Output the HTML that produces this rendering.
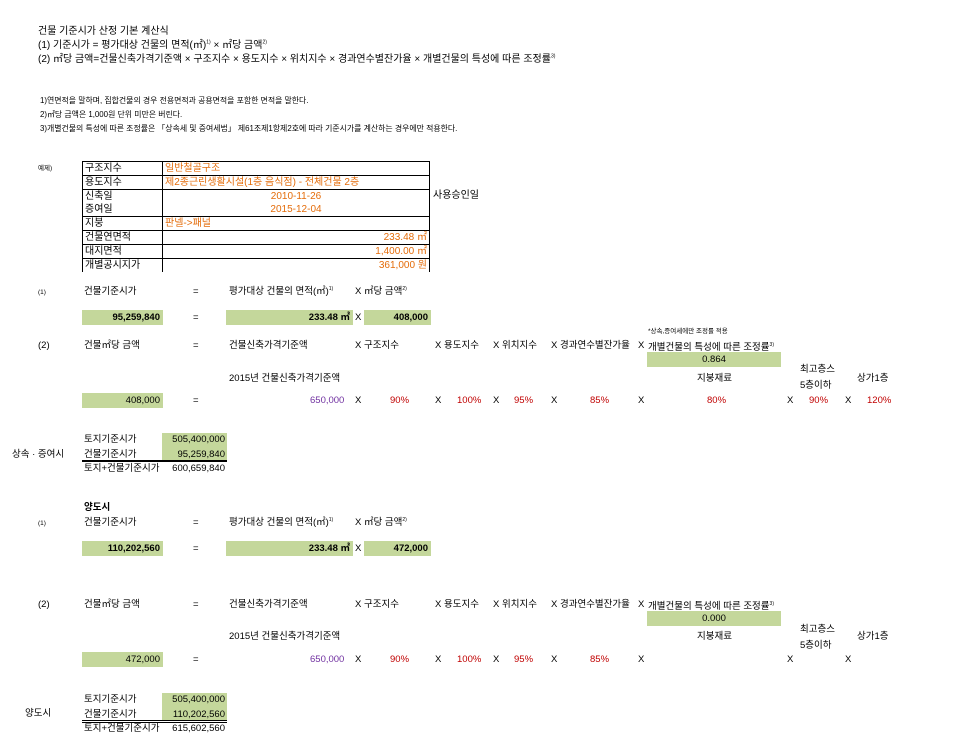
<!DOCTYPE html>
<html><head><meta charset="utf-8"><style>
body{margin:0;width:957px;height:754px;background:#fff;position:relative;overflow:hidden;font-family:"Liberation Sans","Noto Sans CJK KR",sans-serif;font-size:9.5px;color:#000}
.a{position:absolute;white-space:nowrap;line-height:12px}
.t{font-size:10px}
.g{position:absolute;background:#c4d79b;line-height:15px;text-align:right;box-sizing:border-box;padding-right:3px}
.b{font-weight:bold}
.o{color:#e46c0a}
.p{color:#7030a0}
.r{color:#c00000}
.s{font-size:6.5px}
.f{font-size:7.9px}
sup{font-size:5px;line-height:0}
table{position:absolute;left:82px;top:161px;border-collapse:collapse;font-size:10px}
td{border:1px solid #000;padding:0 2px;line-height:13px;height:13px}
</style></head><body>
<div class="a t" style="left:38px;top:26px">건물 기준시가 산정 기본 계산식</div>
<div class="a t" style="left:38px;top:40px">(1) 기준시가 = 평가대상 건물의 면적(㎡)<sup>1)</sup> × ㎡당 금액<sup>2)</sup></div>
<div class="a t" style="left:38px;top:54px">(2) ㎡당 금액=건물신축가격기준액 × 구조지수 × 용도지수 × 위치지수 × 경과연수별잔가율 × 개별건물의 특성에 따른 조정률<sup>3)</sup></div>
<div class="a f" style="left:40px;top:95px">1)연면적을 말하며, 집합건물의 경우 전용면적과 공용면적을 포함한 면적을 말한다.</div>
<div class="a f" style="left:40px;top:109px">2)㎡당 금액은 1,000원 단위 미만은 버린다.</div>
<div class="a f" style="left:40px;top:123px">3)개별건물의 특성에 따른 조정률은 「상속세 및 증여세법」 제61조제1항제2호에 따라 기준시가를 계산하는 경우에만 적용한다.</div>
<div class="a s" style="left:38px;top:163px">예제)</div>
<table>
<tr><td style="width:75px">구조지수</td><td class="o" style="width:262px">일반철골구조</td></tr>
<tr><td>용도지수</td><td class="o">제2종근린생활시설(1층 음식점) - 전체건물 2층</td></tr>
<tr><td style="height:26px">신축일<br>증여일</td><td class="o" style="text-align:center">2010-11-26<br>2015-12-04</td></tr>
<tr><td>지붕</td><td class="o">판넬->패널</td></tr>
<tr><td>건물연면적</td><td class="o" style="text-align:right">233.48 ㎡</td></tr>
<tr><td>대지면적</td><td class="o" style="text-align:right">1,400.00 ㎡</td></tr>
<tr><td style="border-bottom:none">개별공시지가</td><td class="o" style="text-align:right;border-bottom:none">361,000 원</td></tr>
</table>
<div class="a t" style="left:433px;top:190px">사용승인일</div>

<div class="a s" style="left:38px;top:287px">(1)</div>
<div class="a" style="left:84px;top:286px">건물기준시가</div>
<div class="a" style="left:193px;top:286px">=</div>
<div class="a" style="left:229px;top:286px">평가대상 건물의 면적(㎡)<sup>1)</sup></div>
<div class="a" style="left:355px;top:286px">X ㎡당 금액<sup>2)</sup></div>
<div class="g b" style="left:82px;top:310px;width:81px">95,259,840</div>
<div class="a" style="left:193px;top:312px">=</div>
<div class="g b" style="left:226px;top:310px;width:127px">233.48 ㎡</div>
<div class="a" style="left:355px;top:312px">X</div>
<div class="g b" style="left:364px;top:310px;width:67px">408,000</div>

<div class="a s" style="left:648px;top:326px">*상속,증여세에만 조정률 적용</div>
<div class="a" style="left:38px;top:340px">(2)</div>
<div class="a" style="left:84px;top:340px">건물㎡당 금액</div>
<div class="a" style="left:193px;top:340px">=</div>
<div class="a" style="left:229px;top:340px">건물신축가격기준액</div>
<div class="a" style="left:355px;top:340px">X 구조지수</div>
<div class="a" style="left:435px;top:340px">X 용도지수</div>
<div class="a" style="left:493px;top:340px">X 위치지수</div>
<div class="a" style="left:551px;top:340px">X 경과연수별잔가율</div>
<div class="a" style="left:638px;top:340px">X</div>
<div class="a" style="left:648px;top:342px">개별건물의 특성에 따른 조정률<sup>3)</sup></div>
<div class="g" style="left:647px;top:352px;width:134px;text-align:center;padding:0">0.864</div>
<div class="a" style="left:229px;top:373px">2015년 건물신축가격기준액</div>
<div class="a" style="left:697px;top:373px">지붕재료</div>
<div class="a" style="left:800px;top:364px">최고층스</div>
<div class="a" style="left:800px;top:380px">5층이하</div>
<div class="a" style="left:857px;top:373px">상가1층</div>
<div class="g" style="left:82px;top:393px;width:81px">408,000</div>
<div class="a" style="left:193px;top:395px">=</div>
<div class="a p" style="left:310px;top:395px">650,000</div>
<div class="a" style="left:355px;top:395px">X</div><div class="a r" style="left:390px;top:395px">90%</div>
<div class="a" style="left:435px;top:395px">X</div><div class="a r" style="left:457px;top:395px">100%</div>
<div class="a" style="left:493px;top:395px">X</div><div class="a r" style="left:514px;top:395px">95%</div>
<div class="a" style="left:551px;top:395px">X</div><div class="a r" style="left:590px;top:395px">85%</div>
<div class="a" style="left:638px;top:395px">X</div><div class="a r" style="left:707px;top:395px">80%</div>
<div class="a" style="left:787px;top:395px">X</div><div class="a r" style="left:809px;top:395px">90%</div>
<div class="a" style="left:845px;top:395px">X</div><div class="a r" style="left:867px;top:395px">120%</div>

<div class="g" style="left:162px;top:433px;width:65px;height:28px"></div>
<div class="a" style="left:84px;top:434px">토지기준시가</div>
<div class="a" style="left:162px;top:434px;width:63px;text-align:right">505,400,000</div>
<div class="a" style="left:12px;top:449px">상속 · 증여시</div>
<div class="a" style="left:84px;top:449px">건물기준시가</div>
<div class="a" style="left:162px;top:449px;width:63px;text-align:right">95,259,840</div>
<div style="position:absolute;left:82px;top:460px;width:145px;height:2px;background:#000"></div>
<div class="a" style="left:84px;top:463px">토지+건물기준시가</div>
<div class="a" style="left:162px;top:463px;width:63px;text-align:right">600,659,840</div>

<div class="a b" style="left:84px;top:502px">양도시</div>
<div class="a s" style="left:38px;top:518px">(1)</div>
<div class="a" style="left:84px;top:517px">건물기준시가</div>
<div class="a" style="left:193px;top:517px">=</div>
<div class="a" style="left:229px;top:517px">평가대상 건물의 면적(㎡)<sup>1)</sup></div>
<div class="a" style="left:355px;top:517px">X ㎡당 금액<sup>2)</sup></div>
<div class="g b" style="left:82px;top:541px;width:81px">110,202,560</div>
<div class="a" style="left:193px;top:543px">=</div>
<div class="g b" style="left:226px;top:541px;width:127px">233.48 ㎡</div>
<div class="a" style="left:355px;top:543px">X</div>
<div class="g b" style="left:364px;top:541px;width:67px">472,000</div>

<div class="a" style="left:38px;top:599px">(2)</div>
<div class="a" style="left:84px;top:599px">건물㎡당 금액</div>
<div class="a" style="left:193px;top:599px">=</div>
<div class="a" style="left:229px;top:599px">건물신축가격기준액</div>
<div class="a" style="left:355px;top:599px">X 구조지수</div>
<div class="a" style="left:435px;top:599px">X 용도지수</div>
<div class="a" style="left:493px;top:599px">X 위치지수</div>
<div class="a" style="left:551px;top:599px">X 경과연수별잔가율</div>
<div class="a" style="left:638px;top:599px">X</div>
<div class="a" style="left:648px;top:601px">개별건물의 특성에 따른 조정률<sup>3)</sup></div>
<div class="g" style="left:647px;top:611px;width:134px;text-align:center;padding:0">0.000</div>
<div class="a" style="left:229px;top:631px">2015년 건물신축가격기준액</div>
<div class="a" style="left:697px;top:631px">지붕재료</div>
<div class="a" style="left:800px;top:624px">최고층스</div>
<div class="a" style="left:800px;top:640px">5층이하</div>
<div class="a" style="left:857px;top:631px">상가1층</div>
<div class="g" style="left:82px;top:652px;width:81px">472,000</div>
<div class="a" style="left:193px;top:654px">=</div>
<div class="a p" style="left:310px;top:654px">650,000</div>
<div class="a" style="left:355px;top:654px">X</div><div class="a r" style="left:390px;top:654px">90%</div>
<div class="a" style="left:435px;top:654px">X</div><div class="a r" style="left:457px;top:654px">100%</div>
<div class="a" style="left:493px;top:654px">X</div><div class="a r" style="left:514px;top:654px">95%</div>
<div class="a" style="left:551px;top:654px">X</div><div class="a r" style="left:590px;top:654px">85%</div>
<div class="a" style="left:638px;top:654px">X</div>
<div class="a" style="left:787px;top:654px">X</div>
<div class="a" style="left:845px;top:654px">X</div>

<div class="g" style="left:162px;top:693px;width:65px;height:28px"></div>
<div class="a" style="left:84px;top:694px">토지기준시가</div>
<div class="a" style="left:162px;top:694px;width:63px;text-align:right">505,400,000</div>
<div class="a" style="left:25px;top:708px">양도시</div>
<div class="a" style="left:84px;top:709px">건물기준시가</div>
<div class="a" style="left:162px;top:709px;width:63px;text-align:right">110,202,560</div>
<div style="position:absolute;left:82px;top:720px;width:145px;height:1px;background:#000"></div>
<div style="position:absolute;left:82px;top:722px;width:145px;height:1px;background:#000"></div>
<div class="a" style="left:84px;top:723px">토지+건물기준시가</div>
<div class="a" style="left:162px;top:723px;width:63px;text-align:right">615,602,560</div>
</body></html>
